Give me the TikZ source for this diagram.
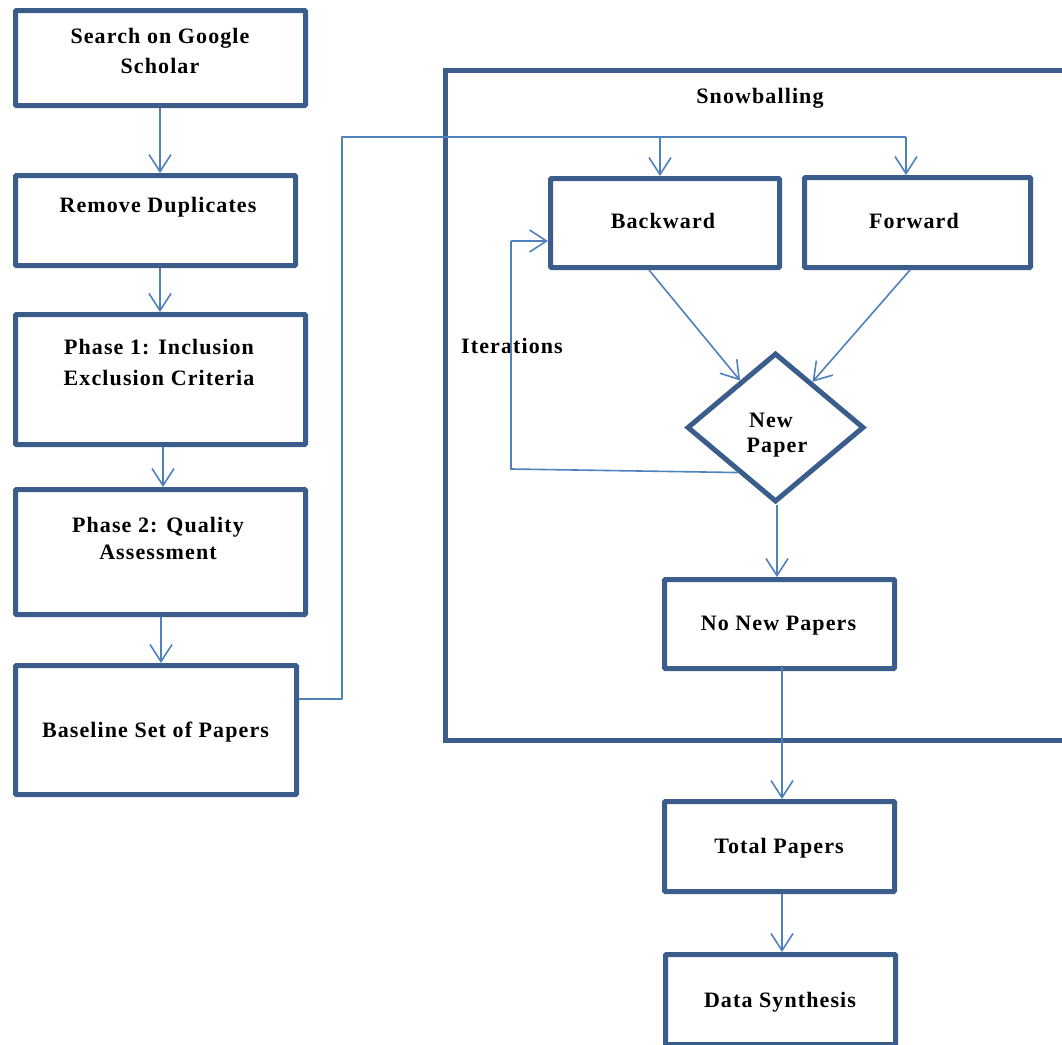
\documentclass[tikz,border=0pt]{standalone}
\usepackage{fontspec}
\setmainfont{Liberation Serif}[LetterSpace=5]
\usetikzlibrary{arrows.meta,shapes.geometric,calc}
\definecolor{boxblue}{HTML}{3A5D8C}
\definecolor{linkblue}{HTML}{4F81BD}
\begin{document}
\begin{tikzpicture}[x=1pt,y=-1pt,
  stepbox/.style={draw=boxblue,line width=5pt,rounded corners=1pt,rectangle,inner sep=0pt},
  decision/.style={draw=boxblue,line width=5pt,diamond,inner sep=0pt,minimum width=177pt,minimum height=149pt},
  txt/.style={anchor=base,inner sep=0pt,font=\fontsize{22}{30}\selectfont\bfseries},
  link/.style={draw=linkblue,line width=1.6pt,-{Straight Barb[length=17pt,width=22pt,line width=1.6pt]}},
  plain/.style={draw=linkblue,line width=1.6pt}]
\useasboundingbox (0,0) rectangle (1062,1044);
\clip (0,0) rectangle (1062,1044);

% left column
\node[stepbox,minimum width=290pt,minimum height=95pt]  (search) at (160.5,58) {};
\node[stepbox,minimum width=280pt,minimum height=90pt]  (dup)    at (155.5,220.5) {};
\node[stepbox,minimum width=290pt,minimum height=130pt] (ph1)    at (160.5,379.5) {};
\node[stepbox,minimum width=290pt,minimum height=125pt] (ph2)    at (160.5,552) {};
\node[stepbox,minimum width=281pt,minimum height=129pt] (base)   at (156,730) {};

\node[txt] (search-a) at (160,43) {Search on Google};
\node[txt] (search-b) at (160,73) {Scholar};
\node[txt] (dup-t)    at (158,212) {Remove Duplicates};
\node[txt] (ph1-a)    at (159,354) {Phase 1: Inclusion};
\node[txt] (ph1-b)    at (159,385) {Exclusion Criteria};
\node[txt] (ph2-a)    at (158,532) {Phase 2: Quality};
\node[txt] (ph2-b)    at (158,559) {Assessment};
\node[txt] (base-t)   at (155.5,737) {Baseline Set of Papers};

% snowballing frame
\node[stepbox,rounded corners=0pt,minimum width=640pt,minimum height=670pt] (snow) at (765,405) {};
\node[txt] (snow-t) at (760,103) {Snowballing};

\node[stepbox,minimum width=229pt,minimum height=89pt] (back) at (665,223) {};
\node[stepbox,minimum width=226pt,minimum height=90pt] (fwd)  at (917.5,222.5) {};
\node[txt] (back-t) at (663,228) {Backward};
\node[txt] (fwd-t)  at (914,228) {Forward};

\node[decision] (newp) at (775.5,427.5) {};
\node[txt] (newp-a) at (771,427) {New};
\node[txt] (newp-b) at (777,452) {Paper};
\node[txt] (iter-t) at (512,353) {Iterations};

\node[stepbox,minimum width=230pt,minimum height=89pt] (nonew) at (779.5,624) {};
\node[stepbox,minimum width=230pt,minimum height=90pt] (total) at (779.5,846.5) {};
\node[stepbox,minimum width=230pt,minimum height=90pt] (synth) at (780.5,999.5) {};
\node[txt] (nonew-t) at (778.5,630) {No New Papers};
\node[txt] (total-t) at (779,853) {Total Papers};
\node[txt] (synth-t) at (780,1007) {Data Synthesis};

% connectors of the left column
\draw[link] ([xshift=-0.5pt]search.south) -- ([xshift=-0.5pt]search.south |- dup.north);
\draw[link] ([xshift=-0.5pt]search.south |- dup.south) -- ([xshift=-0.5pt]search.south |- ph1.north);
\draw[link] ([xshift=2.5pt]ph1.south) -- ([xshift=2.5pt]ph2.north);
\draw[link] ([xshift=0.5pt]ph2.south) -- ([xshift=0.5pt]ph2.south |- base.north);

% baseline set feeds both snowballing directions
\coordinate (busL) at (342,137);
\coordinate (busB) at (660,137);
\coordinate (busF) at (906,137);
\draw[plain,line join=round] ([yshift=31pt]base.east) -| (busL) -- (busF);
\draw[link] (busB) -- (busB |- back.north);
\draw[link] (busF) -- (busF |- fwd.north);

% into the decision
\draw[link] ([xshift=-16pt]back.south) -- (newp.127);
\draw[link] ([xshift=-7.5pt]fwd.south) -- (newp.51);

% iteration loop back to backward
\coordinate (loopB) at (511,469);
\coordinate (loopT) at (511,241);
\draw[plain] (newp.230) -- (loopB) -- (loopT);
\draw[link] (loopT) -- (loopT -| back.west);

% down the right column
\draw[link] ([xshift=1.5pt]newp.south) -- ([xshift=1.5pt]newp.south |- nonew.north);
\draw[link] ([xshift=2.5pt,yshift=4pt]nonew.south) -- ([xshift=2.5pt]nonew.south |- total.north);
\draw[link] ([xshift=2.5pt]total.south) -- ([xshift=2.5pt]total.south |- synth.north);
\end{tikzpicture}
\end{document}
